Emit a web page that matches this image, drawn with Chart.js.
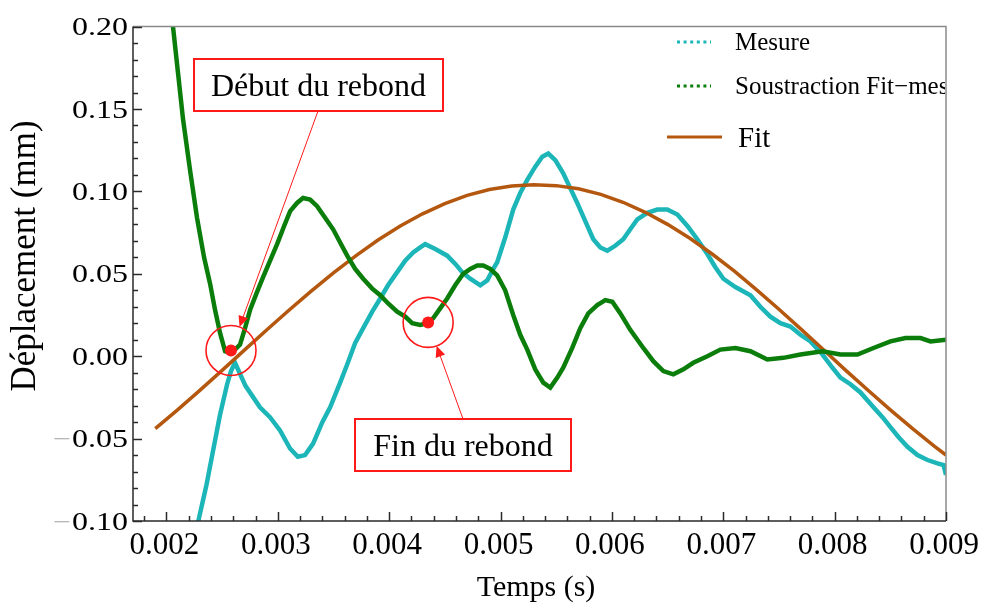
<!DOCTYPE html>
<html>
<head>
<meta charset="utf-8">
<script src="https://cdn.jsdelivr.net/npm/chart.js@4.4.0/dist/chart.umd.min.js"></script>
<style>
html, body { margin: 0; padding: 0; background: #fff; }
#wrap { width: 983px; height: 609px; }
</style>
</head>
<body>
<div id="wrap"><canvas id="chart" width="983" height="609"></canvas></div>
<script>
// axis ticks
const xTickValues = [0.002, 0.003, 0.004, 0.005, 0.006, 0.007, 0.008, 0.009];
const xTickLabels = ['0.002', '0.003', '0.004', '0.005', '0.006', '0.007', '0.008', '0.009'];
const yTickValues = [-0.10, -0.05, 0.00, 0.05, 0.10, 0.15, 0.20];
const yTickLabels = ['0.10', '0.05', '0.00', '0.05', '0.10', '0.15', '0.20'];

// Mesure (cyan)
const mesureT = [0.00227, 0.00229, 0.00236, 0.00242, 0.00248, 0.002545, 0.00258, 0.002616, 0.00271, 0.00284,
  0.00293, 0.00302, 0.00311, 0.00318, 0.003245, 0.003317, 0.0034, 0.00347, 0.00356, 0.003623,
  0.003695, 0.003767, 0.003848, 0.00392, 0.00399, 0.004072, 0.004144, 0.004216, 0.004279, 0.004324,
  0.004414, 0.004521, 0.004594, 0.004656, 0.004728, 0.004818, 0.004881, 0.004935, 0.00497, 0.005042,
  0.005114, 0.005177, 0.00524, 0.005312, 0.005375, 0.005429, 0.005492, 0.005563, 0.005626, 0.005689,
  0.005761, 0.005833, 0.005896, 0.005959, 0.00603, 0.006102, 0.006165, 0.006228, 0.006318, 0.006408,
  0.006498, 0.006588, 0.006678, 0.006767, 0.006857, 0.006929, 0.007001, 0.007109, 0.007244, 0.007333,
  0.007423, 0.007513, 0.007603, 0.007693, 0.007783, 0.007891, 0.00798, 0.008052, 0.008142, 0.008232,
  0.008349, 0.00843, 0.008501, 0.008573, 0.008654, 0.008744, 0.008834, 0.008924, 0.008978, 0.009];
const mesureY = [-0.108, -0.099, -0.078, -0.057, -0.036, -0.017, -0.009, -0.004, -0.018, -0.031,
  -0.037, -0.045, -0.056, -0.061, -0.060, -0.053, -0.040, -0.031, -0.016, -0.005,
  0.008, 0.017, 0.027, 0.035, 0.043, 0.051, 0.058, 0.063, 0.066, 0.068,
  0.065, 0.061, 0.056, 0.051, 0.047, 0.043, 0.046, 0.053, 0.057, 0.072,
  0.089, 0.099, 0.107, 0.115, 0.121, 0.123, 0.119, 0.111, 0.102, 0.093,
  0.082, 0.071, 0.066, 0.064, 0.067, 0.071, 0.077, 0.083, 0.087, 0.089,
  0.089, 0.086, 0.079, 0.071, 0.062, 0.054, 0.047, 0.042, 0.037, 0.030,
  0.024, 0.020, 0.018, 0.013, 0.009, 0.001, -0.007, -0.013, -0.017, -0.022,
  -0.031, -0.037, -0.043, -0.049, -0.055, -0.060, -0.063, -0.065, -0.066, -0.072];

// Soustraction Fit-mesure (green)
const soustT = [0.00204, 0.002059, 0.002104, 0.002149, 0.002212, 0.002275, 0.002338, 0.002392, 0.002437, 0.002482,
  0.002527, 0.002572, 0.002616, 0.002661, 0.002706, 0.002751, 0.002814, 0.002868, 0.002931, 0.002994,
  0.003057, 0.003111, 0.003173, 0.003227, 0.00329, 0.003353, 0.003425, 0.003497, 0.00356, 0.003623,
  0.003695, 0.003767, 0.003848, 0.00392, 0.003991, 0.004072, 0.004144, 0.004207, 0.004279, 0.004342,
  0.004395, 0.004458, 0.004521, 0.004593, 0.004665, 0.004728, 0.004791, 0.004845, 0.004908, 0.00497,
  0.005042, 0.005114, 0.005177, 0.00524, 0.005312, 0.005384, 0.005447, 0.00551, 0.005563, 0.005644,
  0.005716, 0.005788, 0.005869, 0.005941, 0.006004, 0.006076, 0.006165, 0.006282, 0.006372, 0.006462,
  0.006552, 0.006642, 0.006731, 0.006857, 0.006974, 0.007109, 0.007244, 0.007396, 0.00754, 0.007693,
  0.007891, 0.008052, 0.008205, 0.008349, 0.008501, 0.008636, 0.008771, 0.008861, 0.009];
const soustY = [0.212, 0.200, 0.172, 0.144, 0.113, 0.084, 0.060, 0.044, 0.028, 0.014,
  0.003, 0.002, 0.004, 0.007, 0.017, 0.028, 0.039, 0.048, 0.058, 0.068,
  0.079, 0.088, 0.093, 0.096, 0.095, 0.091, 0.084, 0.077, 0.069, 0.061,
  0.053, 0.047, 0.041, 0.037, 0.032, 0.027, 0.024, 0.020, 0.019, 0.020,
  0.023, 0.029, 0.035, 0.043, 0.050, 0.053, 0.055, 0.055, 0.053, 0.049,
  0.040, 0.025, 0.013, 0.004, -0.008, -0.016, -0.019, -0.013, -0.007, 0.005,
  0.017, 0.026, 0.031, 0.034, 0.033, 0.026, 0.016, 0.005, -0.003, -0.009,
  -0.011, -0.008, -0.004, 0.000, 0.004, 0.005, 0.003, -0.002, -0.001, 0.001,
  0.003, 0.001, 0.001, 0.005, 0.009, 0.011, 0.011, 0.009, 0.010];

// Fit (brown)
const fitT = [0.0019, 0.0021, 0.0023, 0.0025, 0.0027, 0.0029, 0.0031, 0.0033, 0.0035, 0.0037,
  0.0039, 0.0041, 0.0043, 0.0045, 0.0047, 0.0049, 0.0051, 0.0053, 0.0055, 0.0057,
  0.0059, 0.0061, 0.0063, 0.0065, 0.0067, 0.0069, 0.0071, 0.0073, 0.0075, 0.0077,
  0.0079, 0.0081, 0.0083, 0.0085, 0.0087, 0.0089, 0.0090];
const fitY = [-0.0440, -0.0326, -0.0207, -0.0086, 0.0037, 0.0159, 0.0279, 0.0395, 0.0506, 0.0609,
  0.0705, 0.0790, 0.0864, 0.0926, 0.0976, 0.1011, 0.1033, 0.1040, 0.1035, 0.1016,
  0.0982, 0.0934, 0.0873, 0.0800, 0.0716, 0.0620, 0.0516, 0.0403, 0.0285, 0.0163,
  0.0039, -0.0086, -0.0207, -0.0326, -0.0440, -0.0548, -0.0600];

// rebound start / end
const reboundT = [0.00258, 0.00435];
const reboundY = [0.0035, 0.0205];
const reboundLabels = ['Début du rebond', 'Fin du rebond'];

const RED = '#ff1a1a';
const CYAN = '#1cb6b9';
const GREEN = '#0b7d0b';
const BROWN = '#b5580f';
const SERIF = '"Liberation Serif", "Times New Roman", serif';

function zip(ts, ys) {
  return ts.map((t, i) => ({x: t, y: ys[i]}));
}

const decor = {
  id: 'decor',
  afterDraw(chart) {
    const ctx = chart.ctx;
    const a = chart.chartArea;
    const xs = chart.scales.x, ys = chart.scales.y;
    ctx.save();

    // frame
    ctx.lineWidth = 1.5;
    ctx.strokeStyle = '#8a8a8a';
    ctx.beginPath();
    ctx.moveTo(a.left, a.top); ctx.lineTo(a.right, a.top); ctx.lineTo(a.right, a.bottom);
    ctx.stroke();
    ctx.strokeStyle = '#2a2a2a';
    ctx.beginPath();
    ctx.moveTo(a.left, a.top); ctx.lineTo(a.left, a.bottom); ctx.lineTo(a.right, a.bottom);
    ctx.stroke();

    // inner ticks
    ctx.lineWidth = 1.5;
    for (let v = -0.10; v <= 0.2001; v += 0.01) {
      const py = Math.round(ys.getPixelForValue(v)) + 0.5;
      const major = Math.abs(Math.round(v * 100) % 5) === 0;
      ctx.beginPath(); ctx.moveTo(a.left, py); ctx.lineTo(a.left + (major ? 9 : 5), py); ctx.stroke();
    }
    for (let v = 0.0018; v <= 0.009001; v += 0.0002) {
      const px = Math.round(xs.getPixelForValue(v)) + 0.5;
      const major = Math.round(v * 10000) % 10 === 0;
      ctx.beginPath(); ctx.moveTo(px, a.bottom); ctx.lineTo(px, a.bottom - (major ? 9 : 5)); ctx.stroke();
    }

    // y tick labels
    ctx.textAlign = 'right';
    ctx.textBaseline = 'alphabetic';
    ctx.font = '25px ' + SERIF;
    yTickValues.forEach((v, i) => {
      const py = ys.getPixelForValue(v);
      ctx.save();
      ctx.translate(128, py + 8.5);
      ctx.scale(1.28, 1);
      ctx.fillStyle = '#000';
      ctx.fillText(yTickLabels[i], 0, 0);
      if (v < 0) {
        const w = ctx.measureText(yTickLabels[i]).width;
        ctx.fillStyle = '#b4b4b4';
        ctx.fillText('\u2212', -w - 1, 0);
      }
      ctx.restore();
    });

    // x tick labels
    ctx.textAlign = 'center';
    ctx.font = '31px ' + SERIF;
    ctx.fillStyle = '#000';
    xTickValues.forEach((v, i) => {
      ctx.fillText(xTickLabels[i], xs.getPixelForValue(v) - 2, 554);
    });

    // axis titles
    ctx.font = '30px ' + SERIF;
    ctx.fillText('Temps (s)', 536, 596);
    ctx.save();
    ctx.translate(35, 256);
    ctx.rotate(-Math.PI / 2);
    ctx.font = '35px ' + SERIF;
    ctx.fillText('Déplacement (mm)', 0, 0);
    ctx.restore();

    // legend
    ctx.save();
    ctx.beginPath();
    ctx.rect(a.left, a.top, a.right - a.left - 1, a.bottom - a.top);
    ctx.clip();
    ctx.lineWidth = 3;
    ctx.setLineDash([3, 3.6]);
    ctx.strokeStyle = CYAN;
    ctx.beginPath(); ctx.moveTo(677, 42); ctx.lineTo(711, 42); ctx.stroke();
    ctx.strokeStyle = GREEN;
    ctx.beginPath(); ctx.moveTo(677, 86); ctx.lineTo(711, 86); ctx.stroke();
    ctx.setLineDash([]);
    ctx.strokeStyle = BROWN;
    ctx.lineWidth = 3;
    ctx.beginPath(); ctx.moveTo(667, 137); ctx.lineTo(722, 137); ctx.stroke();
    ctx.textAlign = 'left';
    ctx.fillStyle = '#000';
    ctx.font = '25px ' + SERIF;
    ctx.fillText(chart.data.datasets[4].label, 735, 50);
    ctx.fillText(chart.data.datasets[2].label, 735, 94);
    ctx.font = '29px ' + SERIF;
    ctx.fillText(chart.data.datasets[3].label, 738, 147);
    ctx.restore();

    // callouts
    const boxes = [
      {x: 194, y: 59, w: 249, h: 52, ax: 318, ay: 111},
      {x: 355, y: 419, w: 216, h: 52, ax: 463, ay: 419}
    ];
    boxes.forEach((b, i) => {
      const cx = xs.getPixelForValue(reboundT[i]);
      const cy = ys.getPixelForValue(reboundY[i]);
      const dx = b.ax - cx, dy = b.ay - cy;
      const d = Math.hypot(dx, dy);
      const tx = cx + dx / d * 25, ty = cy + dy / d * 25;
      const ux = dx / d, uy = dy / d;
      ctx.strokeStyle = RED;
      ctx.fillStyle = RED;
      ctx.lineWidth = 1;
      ctx.beginPath(); ctx.moveTo(b.ax, b.ay); ctx.lineTo(tx + ux * 8, ty + uy * 8); ctx.stroke();
      ctx.beginPath();
      ctx.moveTo(tx, ty);
      ctx.lineTo(tx + ux * 11 - uy * 5, ty + uy * 11 + ux * 5);
      ctx.lineTo(tx + ux * 11 + uy * 5, ty + uy * 11 - ux * 5);
      ctx.closePath();
      ctx.fill();

      ctx.fillStyle = '#fff';
      ctx.fillRect(b.x, b.y, b.w, b.h);
      ctx.lineWidth = 2;
      ctx.strokeRect(b.x, b.y, b.w, b.h);
      ctx.fillStyle = '#000';
      ctx.textAlign = 'center';
      ctx.font = '32px ' + SERIF;
      ctx.fillText(reboundLabels[i], b.x + b.w / 2, b.y + 37);
    });

    ctx.restore();
  }
};

new Chart(document.getElementById('chart'), {
  type: 'scatter',
  data: {
    datasets: [
      {
        label: 'Points',
        data: zip(reboundT, reboundY),
        pointRadius: 6,
        pointBackgroundColor: RED,
        pointBorderWidth: 0,
        showLine: false
      },
      {
        label: 'Cercles',
        data: zip(reboundT, reboundY),
        pointRadius: 25,
        pointBackgroundColor: 'rgba(0,0,0,0)',
        pointBorderColor: RED,
        pointBorderWidth: 1.6,
        showLine: false
      },
      {
        label: 'Soustraction Fit\u2212mesure',
        data: zip(soustT, soustY),
        borderColor: GREEN,
        borderWidth: 4.5,
        pointRadius: 0,
        showLine: true,
        clip: 0
      },
      {
        label: 'Fit',
        data: zip(fitT, fitY),
        borderColor: BROWN,
        borderWidth: 3.5,
        pointRadius: 0,
        showLine: true,
        clip: 0
      },
      {
        label: 'Mesure',
        data: zip(mesureT, mesureY),
        borderColor: CYAN,
        borderWidth: 4.5,
        pointRadius: 0,
        showLine: true,
        clip: 0
      }
    ]
  },
  options: {
    responsive: false,
    animation: false,
    events: [],
    layout: { padding: { left: 133, top: 20, right: 37, bottom: 88 } },
    plugins: { legend: { display: false }, tooltip: { enabled: false } },
    scales: {
      x: { type: 'linear', min: 0.0017, max: 0.009, display: false },
      y: { type: 'linear', min: -0.10, max: 0.20, display: false }
    }
  },
  plugins: [decor]
});
</script>
</body>
</html>
